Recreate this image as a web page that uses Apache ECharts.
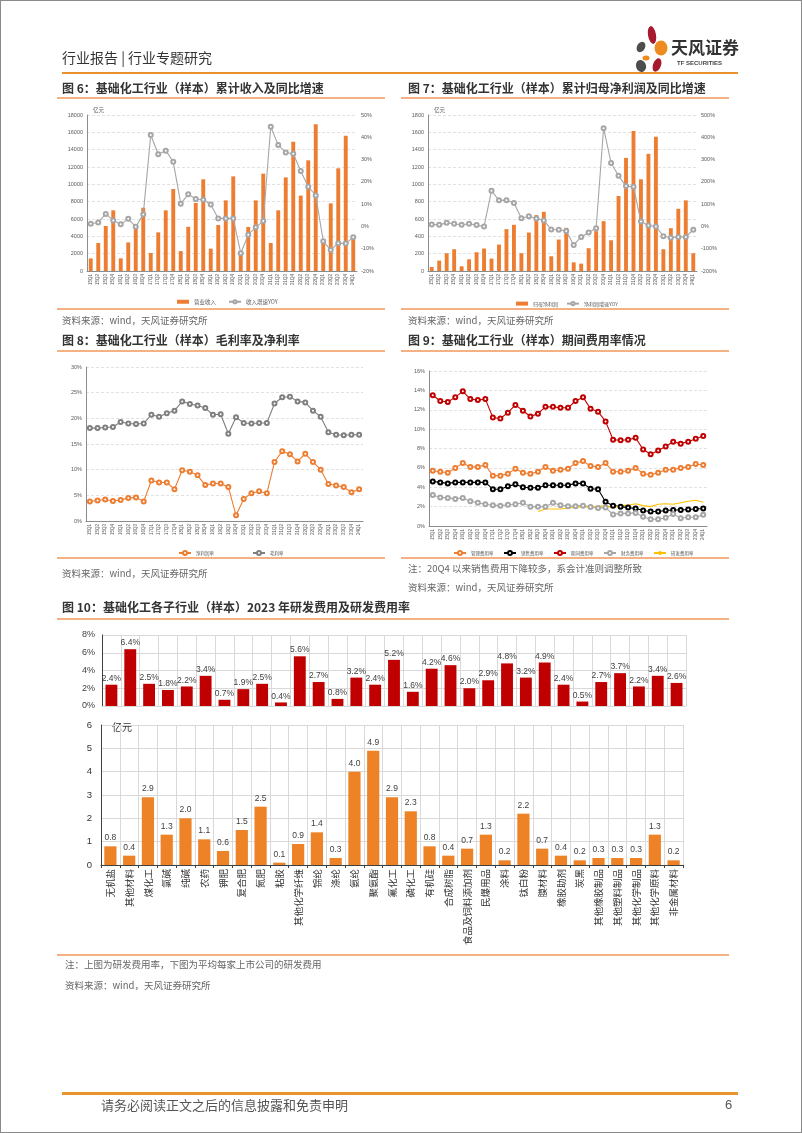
<!DOCTYPE html>
<html><head><meta charset="utf-8">
<script src="https://cdn.jsdelivr.net/npm/echarts@6/dist/echarts.min.js"></script>
<style>
html,body{margin:0;padding:0;background:#fff;}
#page{position:relative;width:802px;height:1133px;overflow:hidden;background:#fff;}
#chart{position:absolute;left:0;top:0;width:802px;height:1133px;}
.t{position:absolute;white-space:nowrap;font-family:'Noto Sans CJK SC',sans-serif;line-height:1;color:#333;z-index:2;}
.ln{position:absolute;z-index:2;}
#border{position:absolute;left:0;top:0;width:800px;height:1131px;border:1px solid #8a8a8a;z-index:3;pointer-events:none;}
</style></head>
<body><div id="page">
<div id="chart"></div>
<div id="border"></div>
<svg class="ln" style="left:625px;top:22px" width="50" height="56" viewBox="625 22 50 56">
 <ellipse cx="652" cy="35" rx="4" ry="9" fill="#A6192E" transform="rotate(-10 652 35)"/>
 <ellipse cx="661" cy="48" rx="6.5" ry="7.5" fill="#EE8B1F"/>
 <ellipse cx="641" cy="47" rx="4" ry="5.5" fill="#4D4D4D" transform="rotate(30 641 47)"/>
 <ellipse cx="646" cy="58" rx="3.5" ry="2.5" fill="#EE8B1F"/>
 <ellipse cx="657" cy="65" rx="4" ry="7" fill="#A6192E" transform="rotate(20 657 65)"/>
 <ellipse cx="641" cy="66" rx="5" ry="6" fill="#4D4D4D" transform="rotate(-20 641 66)"/>
</svg>
<div class="t" style="left:671px;top:38px;font-size:17px;font-weight:700;color:#333">天风证券</div>
<div class="t" style="left:677px;top:60px;font-size:6px;font-weight:700;color:#444;font-family:'Liberation Sans Narrow','Liberation Sans',sans-serif">TF SECURITIES</div>
<div class="t" style="left:62px;top:50px;font-size:14px;color:#333">行业报告 | 行业专题研究</div>
<div class="ln" style="left:62px;top:72px;width:676px;height:2px;background:#E98F2C"></div>

<div class="t" style="left:62px;top:82px;font-size:12px;font-weight:700">图 6：基础化工行业（样本）累计收入及同比增速</div>
<div class="t" style="left:408px;top:82px;font-size:12px;font-weight:700">图 7：基础化工行业（样本）累计归母净利润及同比增速</div>
<div class="ln" style="left:57px;top:97px;width:328px;height:2px;background:#F4B183"></div>
<div class="ln" style="left:401px;top:97px;width:328px;height:2px;background:#F4B183"></div>
<div class="ln" style="left:57px;top:308px;width:328px;height:2px;background:#F4B183"></div>
<div class="ln" style="left:401px;top:308px;width:328px;height:2px;background:#F4B183"></div>
<div class="t" style="left:62px;top:316px;font-size:9.5px;color:#666">资料来源：wind，天风证券研究所</div>
<div class="t" style="left:408px;top:316px;font-size:9.5px;color:#666">资料来源：wind，天风证券研究所</div>

<div class="t" style="left:62px;top:334px;font-size:12px;font-weight:700">图 8：基础化工行业（样本）毛利率及净利率</div>
<div class="t" style="left:408px;top:334px;font-size:12px;font-weight:700">图 9：基础化工行业（样本）期间费用率情况</div>
<div class="ln" style="left:57px;top:350px;width:328px;height:2px;background:#F4B183"></div>
<div class="ln" style="left:401px;top:350px;width:328px;height:2px;background:#F4B183"></div>
<div class="ln" style="left:57px;top:557px;width:328px;height:2px;background:#F4B183"></div>
<div class="ln" style="left:401px;top:557px;width:328px;height:2px;background:#F4B183"></div>
<div class="t" style="left:62px;top:569px;font-size:9.5px;color:#666">资料来源：wind，天风证券研究所</div>
<div class="t" style="left:408px;top:564px;font-size:9.5px;color:#666">注：20Q4 以来销售费用下降较多，系会计准则调整所致</div>
<div class="t" style="left:408px;top:583px;font-size:9.5px;color:#666">资料来源：wind，天风证券研究所</div>

<div class="t" style="left:62px;top:601px;font-size:12px;font-weight:700">图 10：基础化工各子行业（样本）2023 年研发费用及研发费用率</div>
<div class="ln" style="left:57px;top:618px;width:672px;height:2px;background:#F4B183"></div>
<div class="ln" style="left:57px;top:954px;width:672px;height:2px;background:#F4B183"></div>
<div class="t" style="left:65px;top:960px;font-size:9.5px;color:#666">注：上图为研发费用率，下图为平均每家上市公司的研发费用</div>
<div class="t" style="left:65px;top:981px;font-size:9.5px;color:#666">资料来源：wind，天风证券研究所</div>

<div class="ln" style="left:62px;top:1092px;width:676px;height:3px;background:#E8962C"></div>
<div class="t" style="left:101px;top:1098px;font-size:13px;color:#555">请务必阅读正文之后的信息披露和免责申明</div>
<div class="t" style="left:725px;top:1098px;font-size:13px;color:#555;font-family:'Liberation Sans',sans-serif">6</div>
</div>
<script>
// ---------- data ----------
const quarters36 = ['15Q1','15Q2','15Q3','15Q4','16Q1','16Q2','16Q3','16Q4','17Q1','17Q2','17Q3','17Q4','18Q1','18Q2','18Q3','18Q4','19Q1','19Q2','19Q3','19Q4','20Q1','20Q2','20Q3','20Q4','21Q1','21Q2','21Q3','21Q4','22Q2','22Q3','22Q4','23Q1','23Q2','23Q3','23Q4','24Q1'];
const quarters37 = ['15Q1','15Q2','15Q3','15Q4','16Q1','16Q2','16Q3','16Q4','17Q1','17Q2','17Q3','17Q4','18Q1','18Q2','18Q3','18Q4','19Q1','19Q2','19Q3','19Q4','20Q1','20Q2','20Q3','20Q4','21Q1','21Q2','21Q3','21Q4','22Q1','22Q2','22Q3','22Q4','23Q1','23Q2','23Q3','23Q4','24Q1'];

const revenue = [1450,3230,5190,7000,1460,3300,4880,7300,2080,4460,7000,9460,2300,5100,7850,10580,2580,5300,8150,10920,2000,5080,8150,11230,3230,7000,10800,14920,8700,12770,16920,3300,7800,11850,15620,3600];
const revenueYoy = [1.2,1.8,5.6,2.7,1.0,3.4,-0.2,5.4,41.0,32.4,34.0,29.0,10.2,14.4,12.3,12.0,9.8,3.6,3.6,3.6,-12.0,-3.7,-0.4,2.4,44.7,36.5,33.2,32.6,24.9,17.8,13.9,-6.6,-10.6,-7.5,-7.7,-4.8];

const profit = [46,120,205,251,54,135,216,259,143,305,483,533,205,444,645,683,170,363,498,100,85,263,460,575,355,865,1305,1614,1058,1352,1548,251,494,718,815,205];
const profitYoy = [9,7,16,12,7,12,6,0,160,117,118,105,37,46,36,27,-14,-15,-20,-83,-47,-27,-8,441,285,227,181,178,22,4,0,-44,-51,-47,-47,-15];

const grossMargin = [18.1,18.1,18.2,18.3,19.3,19.0,18.9,19.0,20.7,20.3,21.0,21.5,23.3,22.8,22.5,22.0,20.7,20.8,17.0,20.2,19.1,19.0,19.1,19.1,22.9,24.1,24.2,23.3,23.1,21.5,20.3,17.3,16.8,16.7,16.8,16.8];
const netMargin = [3.8,4.0,4.2,3.9,4.1,4.5,4.6,3.8,7.9,7.5,7.5,6.2,9.9,9.6,8.9,7.0,7.3,7.3,6.6,1.1,4.3,5.4,5.8,5.4,11.5,13.6,13.0,11.6,13.1,11.5,10.0,7.2,6.9,6.6,5.6,6.2];

const mgmtRate = [5.7,5.6,5.5,6.0,6.5,6.1,6.1,6.3,5.2,5.2,5.4,5.9,5.5,5.4,5.6,6.1,5.7,5.8,5.9,6.5,6.7,6.2,6.1,6.5,5.6,5.6,5.7,6.0,5.4,5.3,5.5,5.8,5.8,6.0,6.1,6.4,6.3];
const salesRate = [4.6,4.5,4.4,4.5,4.5,4.5,4.5,4.5,3.8,3.8,4.1,4.3,4.0,3.95,3.95,4.2,4.2,4.2,4.2,4.4,4.4,3.85,3.8,2.5,2.1,2.0,1.9,1.8,1.6,1.5,1.5,1.6,1.65,1.65,1.7,1.75,1.8];
const periodRate = [13.5,12.9,12.8,13.3,13.9,13.1,13.0,13.1,11.2,11.1,11.7,12.5,11.9,11.3,11.6,12.3,12.3,12.2,12.2,12.9,13.3,12.1,11.8,10.8,8.9,8.85,8.9,9.1,7.9,7.4,7.8,8.2,8.7,8.5,8.7,9.0,9.3];
const financeRate = [3.2,2.95,2.9,2.8,2.9,2.55,2.4,2.25,2.15,2.1,2.2,2.25,2.4,2.0,2.0,2.0,2.4,2.15,2.05,2.05,2.1,1.95,1.85,1.9,1.2,1.3,1.3,1.35,0.95,0.7,0.7,0.85,1.25,0.8,0.9,0.9,1.15];
const rdRate = [null,null,null,null,null,null,null,null,null,null,null,null,null,null,1.5,1.75,1.75,1.75,1.85,1.95,2.0,1.95,2.0,2.1,1.9,2.1,2.15,2.3,2.1,2.0,2.25,2.3,2.25,2.4,2.55,2.65,2.45];

const subIndustries = ['无机盐','其他材料','煤化工','氯碱','纯碱','农药','钾肥','复合肥','氮肥','粘胶','其他化学纤维','锦纶','涤纶','氨纶','聚氨酯','氟化工','磷化工','有机硅','合成树脂','食品及饲料添加剂','民爆用品','涂料','钛白粉','膜材料','橡胶助剂','炭黑','其他橡胶制品','其他塑料制品','其他化学制品','其他化学原料','非金属材料'];
const rdExpenseRate = [2.4,6.4,2.5,1.8,2.2,3.4,0.7,1.9,2.5,0.4,5.6,2.7,0.8,3.2,2.4,5.2,1.6,4.2,4.6,2.0,2.9,4.8,3.2,4.9,2.4,0.5,2.7,3.7,2.2,3.4,2.6];
const rdExpense = [0.8,0.4,2.9,1.3,2.0,1.1,0.6,1.5,2.5,0.1,0.9,1.4,0.3,4.0,4.9,2.9,2.3,0.8,0.4,0.7,1.3,0.2,2.2,0.7,0.4,0.2,0.3,0.3,0.3,1.3,0.2];

// ---------- styles ----------
const ORANGE = '#ED7D31';
const BAR_OR = '#EE8226';
const RED = '#C00000';
const GRAY = '#A6A6A6';
const AX = '#8C8C8C';
const TXT = '#595959';
const FONT = "'Liberation Sans','Noto Sans CJK SC',sans-serif";
const plain = v => String(v);
const pct = v => v + '%';

function catAxis(grid, data, opts) {
  return Object.assign({
    type:'category', gridIndex:grid, data:data, boundaryGap:true,
    axisLine:{show:true, lineStyle:{color:AX, width:1}},
    axisTick:{show:false},
    axisLabel:{interval:0, rotate:90, fontSize:4.5, color:TXT, margin:3, fontFamily:FONT},
    splitLine:{show:false}
  }, opts||{});
}
function valAxis(grid, min, max, interval, fmt, opts) {
  return Object.assign({
    type:'value', gridIndex:grid, min:min, max:max, interval:interval,
    axisLine:{show:true, lineStyle:{color:AX}},
    axisTick:{show:false},
    axisLabel:{fontSize:5.5, color:TXT, margin:4, fontFamily:FONT, formatter:fmt},
    splitLine:{show:true, lineStyle:{color:'#D9D9D9', type:[3,2], width:0.8}}
  }, opts||{});
}
function lineSeries(name, x, y, data, color, extra) {
  return Object.assign({
    name:name, type:'line', xAxisIndex:x, yAxisIndex:y, data:data,
    symbol:'emptyCircle', symbolSize:4, showSymbol:true,
    lineStyle:{color:color, width:1.1}, itemStyle:{color:color, borderWidth:0.8},
    connectNulls:false, animation:false, z:3
  }, extra||{});
}

const chart = echarts.init(document.getElementById('chart'), null, {renderer:'canvas'});
const option = {
  animation:false,
  backgroundColor:'transparent',
  textStyle:{fontFamily:FONT},
  grid:[
    {left:87, top:115, width:270, height:156, containLabel:false, outerBoundsMode:'none'},
    {left:428, top:115, width:269, height:156, containLabel:false, outerBoundsMode:'none'},
    {left:86, top:367, width:277, height:154, containLabel:false, outerBoundsMode:'none'},
    {left:429, top:371, width:278, height:155, containLabel:false, outerBoundsMode:'none'},
    {left:102, top:635, width:584, height:71, containLabel:false, outerBoundsMode:'none'},
    {left:101, top:725, width:582, height:140, containLabel:false, outerBoundsMode:'none'}
  ],
  xAxis:[
    catAxis(0, quarters36),
    catAxis(1, quarters36),
    catAxis(2, quarters36),
    catAxis(3, quarters37),
    {type:'category', gridIndex:4, data:subIndustries, position:'bottom',
      axisLine:{show:true, lineStyle:{color:'#D9D9D9', width:1}},
      axisTick:{show:false},
      axisLabel:{show:false},
      splitLine:{show:false}},
    {type:'category', gridIndex:5, data:subIndustries,
      axisLine:{show:true, lineStyle:{color:'#404040', width:1}},
      axisTick:{show:true, interval:0, length:3, lineStyle:{color:'#404040'}},
      axisLabel:{interval:0, rotate:90, fontSize:9.5, color:'#333', margin:4, fontFamily:"'Noto Sans CJK SC',sans-serif"},
      splitLine:{show:true, interval:0, lineStyle:{color:'#D9D9D9', width:1}}},
    // helper axis on the upper grid of fig.10: one split line per category boundary
    {type:'value', gridIndex:4, position:'top', min:0, max:subIndustries.length, interval:1,
      axisLine:{show:false}, axisTick:{show:false}, axisLabel:{show:false},
      splitLine:{show:true, lineStyle:{color:'#D9D9D9', width:1}}}
  ],
  yAxis:[
    valAxis(0, 0, 18000, 2000, plain, {name:'亿元', nameLocation:'end', nameGap:2,
      nameTextStyle:{fontSize:5.5, color:TXT, align:'left', padding:[0,0,0,6], fontFamily:"'Noto Sans CJK SC',sans-serif"}}),
    valAxis(0, -20, 50, 10, pct, {position:'right', splitLine:{show:false}, axisLine:{show:false}}),
    valAxis(1, 0, 1800, 200, plain, {name:'亿元', nameLocation:'end', nameGap:2,
      nameTextStyle:{fontSize:5.5, color:TXT, align:'left', padding:[0,0,0,6], fontFamily:"'Noto Sans CJK SC',sans-serif"}}),
    valAxis(1, -200, 500, 100, pct, {position:'right', splitLine:{show:false}, axisLine:{show:false}}),
    valAxis(2, 0, 30, 5, pct),
    valAxis(3, 0, 16, 2, pct),
    {type:'value', gridIndex:4, min:0, max:8, interval:2,
      axisLine:{show:true, lineStyle:{color:'#404040'}}, axisTick:{show:false},
      axisLabel:{fontSize:9, color:'#404040', margin:7, formatter:pct, fontFamily:FONT},
      splitLine:{show:true, lineStyle:{color:'#D9D9D9', width:1}}},
    {type:'value', gridIndex:5, min:0, max:6, interval:1,
      axisLine:{show:true, lineStyle:{color:'#404040'}}, axisTick:{show:false},
      axisLabel:{fontSize:9.5, color:'#333', margin:9, fontFamily:FONT, formatter:plain},
      splitLine:{show:true, lineStyle:{color:'#D9D9D9', width:1}}}
  ],
  legend:[
    {data:[{name:'营业收入', icon:'rect'}, '收入增速YOY'], left:172, top:294, itemWidth:12, itemHeight:4, itemGap:12,
      textStyle:{fontSize:5.5, color:TXT, fontFamily:"'Noto Sans CJK SC',sans-serif"}},
    {data:[{name:'归母净利润', icon:'rect'}, '净利润增速YOY'], left:511, top:296, itemWidth:12, itemHeight:4, itemGap:8,
      textStyle:{fontSize:5, color:TXT, fontFamily:"'Noto Sans CJK SC',sans-serif"}},
    {data:['净利润率','毛利率'], left:173, top:545, itemWidth:12, itemHeight:5, itemGap:38,
      textStyle:{fontSize:4.5, color:TXT, fontFamily:"'Noto Sans CJK SC',sans-serif"}},
    {data:['管理费用率','销售费用率','期间费用率','财务费用率','研发费用率'], left:448, top:545, itemWidth:12, itemHeight:5, itemGap:9.5,
      textStyle:{fontSize:4.5, color:TXT, fontFamily:"'Noto Sans CJK SC',sans-serif"}}
  ],
  graphic:[
    {type:'text', left:112, top:722, style:{text:'亿元', fontSize:10, fill:'#333', fontFamily:"'Noto Sans CJK SC',sans-serif"}}
  ],
  series:[
    {name:'营业收入', type:'bar', xAxisIndex:0, yAxisIndex:0, data:revenue, barWidth:'52%', itemStyle:{color:ORANGE}},
    lineSeries('收入增速YOY', 0, 1, revenueYoy, GRAY),
    {name:'归母净利润', type:'bar', xAxisIndex:1, yAxisIndex:2, data:profit, barWidth:'52%', itemStyle:{color:ORANGE}},
    lineSeries('净利润增速YOY', 1, 3, profitYoy, GRAY),
    lineSeries('净利润率', 2, 4, netMargin, ORANGE),
    lineSeries('毛利率', 2, 4, grossMargin, '#7F7F7F'),
    lineSeries('管理费用率', 3, 5, mgmtRate, ORANGE),
    lineSeries('销售费用率', 3, 5, salesRate, '#000000'),
    lineSeries('期间费用率', 3, 5, periodRate, RED),
    lineSeries('财务费用率', 3, 5, financeRate, GRAY),
    lineSeries('研发费用率', 3, 5, rdRate, '#FFC000', {symbol:'none', showSymbol:false, lineStyle:{color:'#FFC000', width:1.1}}),
    {name:'研发费用率(分行业)', type:'bar', xAxisIndex:4, yAxisIndex:6, data:rdExpenseRate, barWidth:'63%',
      itemStyle:{color:RED}, z:3,
      label:{show:true, position:'top', distance:2, fontSize:8.5, color:'#404040', fontFamily:FONT,
        formatter:p => p.value.toFixed(1) + '%'}},
    {name:'研发费用(分行业)', type:'bar', xAxisIndex:5, yAxisIndex:7, data:rdExpense, barWidth:'65%',
      itemStyle:{color:BAR_OR},
      label:{show:true, position:'top', distance:4, fontSize:8.5, color:'#404040', fontFamily:FONT,
        formatter:p => p.value.toFixed(1)}}
  ]
};
chart.setOption(option);
</script>
</body></html>
